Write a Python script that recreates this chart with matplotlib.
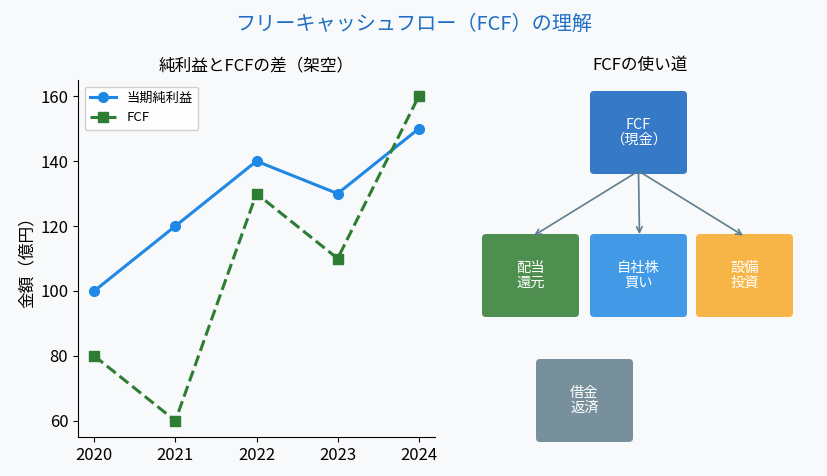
import matplotlib.pyplot as plt
from matplotlib.patches import FancyBboxPatch

plt.rcParams['font.family'] = ['Noto Sans CJK JP', 'DejaVu Sans']

# データ
years = [2020, 2021, 2022, 2023, 2024]
net_income = [100, 120, 140, 130, 150]
fcf = [80, 60, 130, 110, 160]

# 使い道のボックス
box_labels = ['FCF\n（現金）', '配当\n還元', '自社株\n買い', '設備\n投資', '借金\n返済']
box_colors = ['#3679c6', '#4e8f4f', '#4299e6', '#f8b547', '#78909c']
# ボックスの配置 (左上x, 上y) — 右パネル内のピクセル相当座標
box_pos = [(590, 91), (482, 234), (590, 234), (696, 234), (536, 359)]
box_w, box_h = 97, 83

bg = '#f7f9fb'
fig = plt.figure(figsize=(8.28, 4.76), dpi=100, facecolor=bg)
fig.suptitle('フリーキャッシュフロー（FCF）の理解', color='#1f6fc5', fontsize=14.5, y=0.97)

# 左: 折れ線
ax = fig.add_axes([78 / 828, 39 / 476, 357 / 828, 357 / 476], facecolor=bg)
ax.plot(years, net_income, color='#1e88e5', marker='o', markersize=7, linewidth=2.2, label='当期純利益')
ax.plot(years, fcf, color='#2e7d32', marker='s', markersize=7, linewidth=2.2, linestyle='--', label='FCF')
ax.set_xticks(years)
ax.set_yticks([60, 80, 100, 120, 140, 160])
ax.tick_params(labelsize=12)
ax.set_title('純利益とFCFの差（架空）', fontsize=12, pad=7)
ax.set_ylabel('金額（億円）', fontsize=12, labelpad=3)
ax.spines['top'].set_visible(False)
ax.spines['right'].set_visible(False)
ax.legend(loc='upper left', fontsize=9.5, framealpha=0.9, edgecolor='#cccccc')

# 右: 使い道の図
ax2 = fig.add_axes([470 / 828, 16 / 476, 340 / 828, 380 / 476], facecolor=bg)
ax2.set_xlim(470, 810)
ax2.set_ylim(460, 80)
ax2.axis('off')
ax2.set_title('FCFの使い道', fontsize=12, pad=7)

for (x, y), lab, col in zip(box_pos, box_labels, box_colors):
    ax2.add_patch(FancyBboxPatch((x + 4, y + 4), box_w - 8, box_h - 8,
                                 boxstyle='round,pad=4', facecolor=col, edgecolor='none'))
    ax2.text(x + box_w / 2, y + box_h / 2, lab, color='white', fontsize=10.3,
             ha='center', va='center', linespacing=1.1)

# 矢印 (FCF → 上段3つ)
sx, sy = box_pos[0][0] + box_w / 2, box_pos[0][1] + box_h - 3
for (x, y) in box_pos[1:4]:
    ax2.annotate('', xy=(x + box_w / 2 + 1, y + 3), xytext=(sx, sy),
                 arrowprops=dict(arrowstyle='->', color='#607d8b', lw=1.2))

fig.savefig('out.png', dpi=100, facecolor=bg)
